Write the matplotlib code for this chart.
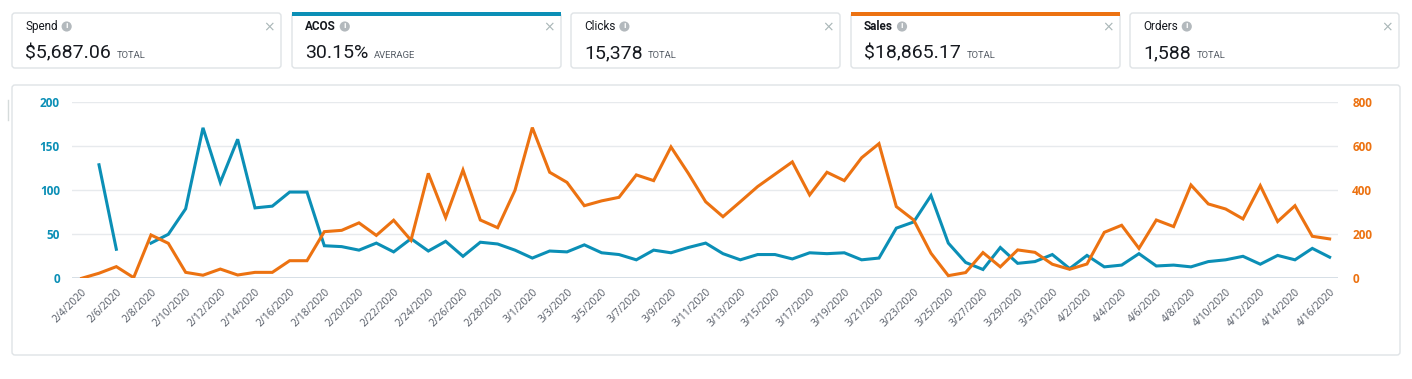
import numpy as np
import pandas as pd
import matplotlib
matplotlib.use("Agg")
import matplotlib.pyplot as plt
from matplotlib.patches import FancyBboxPatch, Rectangle

# Datos diarios 2/4/2020 - 4/16/2020
fechas = pd.date_range("2020-02-04", "2020-04-16", freq="D")
acos = [np.nan, 129, 33, np.nan, 40, 50, 79, 171, 109, 158, 80, 82, 98, 98, 37, 36, 32, 40, 30, 45,
        31, 42, 25, 41, 39, 32, 23, 31, 30, 38, 29, 27, 21, 32, 29, 35, 40, 28, 21, 27,
        27, 22, 29, 28, 29, 21, 23, 57, 64, 94, 40, 18, 10, 35, 17, 19, 27, 11, 26, 13,
        15, 28, 14, 15, 13, 19, 21, 25, 16, 26, 21, 34, 24]
ventas = [0, 23, 53, 3, 197, 159, 27, 14, 42, 15, 27, 27, 80, 80, 212, 218, 252, 195, 264, 173,
          477, 276, 492, 265, 230, 400, 685, 482, 436, 330, 352, 368, 470, 444, 597, 477, 348, 280, 348, 417,
          473, 529, 379, 482, 444, 548, 612, 326, 265, 114, 12, 26, 117, 52, 129, 118, 64, 41, 65, 209,
          241, 136, 265, 235, 424, 338, 315, 270, 421, 258, 330, 191, 179]

# Tarjetas de resumen
titulos = ["Spend", "ACOS", "Clicks", "Sales", "Orders"]
valores = ["$5,687.06", "30.15%", "15,378", "$18,865.17", "1,588"]
sufijos = ["TOTAL", "AVERAGE", "TOTAL", "TOTAL", "TOTAL"]
tarjetas_x = [12, 292, 571, 851, 1130]
tarjeta_ancho = 269

AZUL = "#0b8fb6"
NARANJA = "#ec7211"
GRIS_BORDE = "#dfe3e6"

W, H = 1412, 379
fig = plt.figure(figsize=(W / 100, H / 100), dpi=100)

# capa de fondo en coordenadas de pixel
bg = fig.add_axes([0, 0, 1, 1], zorder=0)
bg.set_xlim(0, W)
bg.set_ylim(H, 0)
bg.axis("off")

for i, x0 in enumerate(tarjetas_x):
    bg.add_patch(FancyBboxPatch((x0, 13), tarjeta_ancho, 55, boxstyle="round,pad=0,rounding_size=3",
                                fc="white", ec=GRIS_BORDE, lw=1))
    seleccionada = titulos[i] in ("ACOS", "Sales")
    if seleccionada:
        color = AZUL if titulos[i] == "ACOS" else NARANJA
        bg.add_patch(Rectangle((x0, 12), tarjeta_ancho, 3.5, fc=color, ec="none"))
    t = bg.text(x0 + 13, 26.5, titulos[i], fontsize=8.5, family="Roboto",
                fontweight="bold" if seleccionada else "normal", color="#16191f", va="center")
    bg.annotate("i", xy=(1, 0.5), xycoords=t, xytext=(6.5, 0), textcoords="offset points",
                fontsize=5, color="white", fontweight="bold", ha="center", va="center",
                bbox=dict(boxstyle="circle,pad=0.3", fc="#b3b9bd", ec="none"))
    bg.text(x0 + 257, 27, "×", fontsize=10, color="#aab7b8", ha="center", va="center")
    v = bg.text(x0 + 13, 53.5, valores[i], fontsize=14, family="Roboto", color="#16191f", va="center")
    bg.annotate(sufijos[i], xy=(1, 0.5), xycoords=v, xytext=(4, -1.5), textcoords="offset points",
                fontsize=6.8, family="Roboto", color="#545b64", va="center")

# panel del grafico
bg.add_patch(FancyBboxPatch((12, 85), 1388, 270, boxstyle="round,pad=0,rounding_size=3",
                            fc="white", ec=GRIS_BORDE, lw=1))
bg.plot([8, 8], [100, 120], color="#d5dbdb", lw=1)

# grafico principal
ax = fig.add_axes([72.3 / W, 1 - 278.3 / H, (1338.3 - 72.3) / W, (278.3 - 102.3) / H], zorder=2)
ax.patch.set_alpha(0)
ax2 = ax.twinx()

x = np.arange(len(fechas))
ax.plot(x, acos, color=AZUL, lw=2.2, solid_joinstyle="miter", zorder=3)
ax2.plot(x, ventas, color=NARANJA, lw=2.2, solid_joinstyle="miter", zorder=3)

ax.set_xlim(-0.54, 72.5)
ax.set_ylim(0, 200)
ax2.set_ylim(0, 800)
ax.set_yticks([0, 50, 100, 150, 200])
ax2.set_yticks([0, 200, 400, 600, 800])

for yv in [50, 100, 150, 200]:
    ax.axhline(yv, color="#e7eaed", lw=1, zorder=0)
ax.axhline(0, color="#d3dce3", lw=2, zorder=1)

for a in (ax, ax2):
    for s in a.spines.values():
        s.set_visible(False)
    a.tick_params(length=0)

ax.tick_params(axis="y", labelcolor=AZUL, pad=9)
ax2.tick_params(axis="y", labelcolor=NARANJA, pad=10)
for lbl in ax.get_yticklabels() + ax2.get_yticklabels():
    lbl.set_fontweight("bold"); lbl.set_fontsize(8.5); lbl.set_family("Open Sans")

etiquetas = [f"{d.month}/{d.day}/{d.year}" for d in fechas[::2]]
ax.set_xticks(x[::2])
ax.set_xticklabels(etiquetas, rotation=45, ha="right", rotation_mode="anchor",
                   fontsize=7.5, family="Open Sans", color="#555b66")
ax.tick_params(axis="x", pad=6)

fig.savefig("out.png", dpi=100, facecolor="white")
